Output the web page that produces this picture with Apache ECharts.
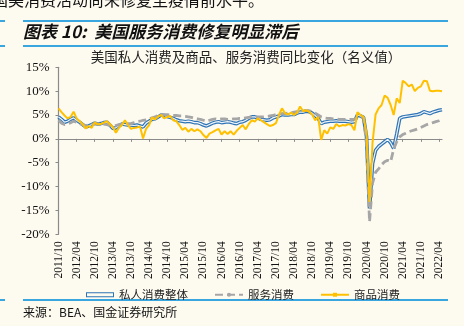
<!DOCTYPE html>
<html>
<head>
<meta charset="utf-8">
<script src="https://cdn.jsdelivr.net/npm/echarts@6/dist/echarts.min.js"></script>
<style>
html,body{margin:0;padding:0;background:#fdfaf0;}
#c{width:464px;height:326px;}
</style>
</head>
<body>
<div id="c"></div>
<script>
// ---- data (monthly, 2011/10 - 2022/05) ----
var startYear = 2011, startMonth = 10, monthCount = 128;
var tickLabels = ['2011/10','2012/04','2012/10','2013/04','2013/10','2014/04','2014/10','2015/04','2015/10','2016/04','2016/10','2017/04','2017/10','2018/04','2018/10','2019/04','2019/10','2020/04','2020/10','2021/04','2021/10','2022/04'];
var yTicks = [-20, -15, -10, -5, 0, 5, 10, 15];

var totalPCE = [
 4.6, 4.1, 3.5, 3.7, 4.1, 4.4, 3.9, 3.5, 3.0, 2.5, 2.7, 3.0, 3.3, 3.1, 3.2, 3.4,
 3.5, 2.9, 2.2, 2.3, 2.8, 3.1, 3.0, 2.9, 2.9, 2.8, 2.9, 2.7, 2.5, 3.3, 3.7, 4.1,
 4.2, 4.6, 5.0, 4.9, 4.7, 4.5, 4.3, 4.0, 3.8, 3.7, 3.6, 3.7, 3.6, 3.4, 3.4, 3.2,
 2.9, 2.7, 3.0, 3.3, 3.5, 3.6, 3.4, 3.5, 3.6, 3.5, 3.3, 3.2, 3.5, 3.6, 3.9, 4.3,
 4.6, 4.6, 4.4, 4.1, 4.0, 3.9, 4.0, 4.4, 4.6, 4.8, 5.1, 5.0, 5.0, 5.1, 5.1, 5.4,
 5.6, 5.6, 5.8, 5.7, 5.4, 4.9, 4.3, 3.2, 3.5, 3.6, 3.7, 3.7, 3.8, 3.7, 3.7, 3.7,
 3.6, 3.5, 3.6, 5.0, 4.8, 4.5, 0.5, -14.6, -5.2, -2.4, -1.6, -1.1, -0.6, -0.1, -0.8, -2.0,
 1.0, 4.3, 4.6, 4.7, 4.8, 4.9, 5.0, 5.1, 5.3, 5.7, 5.5, 5.3, 5.6, 5.8, 6.0, 6.1
];
var servicesPCE = [
 3.9, 3.3, 3.0, 3.1, 3.4, 3.7, 3.5, 3.2, 3.0, 2.8, 2.9, 3.0, 3.1, 3.2, 3.2, 3.1,
 3.0, 2.8, 2.6, 2.8, 3.0, 3.1, 3.1, 3.2, 3.2, 3.4, 3.6, 3.7, 3.9, 4.0, 4.2, 4.4,
 4.6, 4.9, 5.1, 5.1, 5.1, 5.0, 4.9, 4.9, 4.8, 4.8, 4.7, 4.6, 4.5, 4.3, 4.2, 4.1,
 3.9, 3.7, 3.9, 4.1, 4.2, 4.1, 4.2, 4.2, 4.1, 4.1, 4.2, 4.2, 4.3, 4.3, 4.4, 4.5,
 4.6, 4.6, 4.6, 4.6, 4.6, 4.7, 4.8, 4.9, 5.1, 5.2, 5.3, 5.3, 5.4, 5.5, 5.6, 5.7,
 5.8, 5.9, 5.9, 5.9, 5.7, 5.4, 5.0, 4.6, 4.4, 4.3, 4.3, 4.2, 4.2, 4.1, 4.1, 4.1,
 4.1, 4.1, 4.1, 4.5, 4.6, 4.5, -1.0, -17.4, -9.3, -7.0, -6.3, -5.4, -4.8, -4.5, -4.8, -2.1,
 -0.6, 0.4, 0.9, 1.2, 1.5, 1.7, 1.9, 2.1, 2.4, 2.7, 3.0, 3.2, 3.4, 3.6, 3.8, 4.1
];
var goodsPCE = [
 6.4, 5.6, 4.9, 4.3, 4.6, 5.7, 4.3, 3.7, 3.1, 2.2, 2.7, 2.3, 3.5, 3.0, 3.1, 3.4,
 3.7, 3.1, 2.5, 1.3, 2.3, 2.9, 3.9, 2.9, 2.1, 2.3, 2.4, 2.6, 0.1, 2.1, 2.9, 4.5,
 4.1, 4.7, 5.0, 4.3, 4.6, 4.8, 3.9, 3.7, 2.9, 1.9, 2.3, 1.5, 2.1, 1.6, 2.0, 1.6,
 0.8, 0.2, 1.1, 1.4, 1.8, 2.1, 0.9, 1.6, 1.0, 1.6, 0.9, 1.7, 2.3, 2.9, 2.0, 3.1,
 3.9, 3.6, 4.3, 3.9, 3.5, 3.1, 2.7, 2.9, 3.3, 5.0, 6.4, 5.4, 5.1, 5.5, 5.0, 5.5,
 6.8, 5.8, 6.0, 5.7, 5.1, 3.9, 4.6, -0.2, 1.8, 1.1, 2.4, 2.1, 3.1, 2.6, 2.9, 2.8,
 3.1, 2.9, 1.8, 5.6, 5.0, 4.6, 1.3, -13.2, -0.8, 5.1, 6.4, 7.1, 9.1, 8.6, 7.1, 5.0,
 8.5, 7.5, 12.2, 11.7, 11.0, 11.4, 10.0, 10.7, 11.0, 12.2, 12.1, 10.1, 10.0, 10.1, 10.1, 10.0
];

var categories = [];
(function () {
  var y = startYear, m = startMonth;
  for (var k = 0; k < monthCount; k++) {
    categories.push(y + '/' + (m < 10 ? '0' + m : m));
    m++; if (m > 12) { m = 1; y++; }
  }
})();
function isTick(idx, val) { return tickLabels.indexOf(val) >= 0; }

var serif = "'Liberation Serif', 'Times New Roman', serif";
var axisGrey = '#8a8a8a';
var chart = echarts.init(document.getElementById('c'), null, {renderer: 'canvas'});
chart.setOption({
  animation: false,
  backgroundColor: '#fdfaf0',
  textStyle: {fontFamily: '"Noto Sans CJK SC"'},
  grid: {left: 58.5, right: 22, top: 67.3, bottom: 91.7, containLabel: false},
  xAxis: [{
    type: 'category', data: categories, boundaryGap: false,
    axisLine: {onZero: true, lineStyle: {color: axisGrey, width: 1.2}},
    axisTick: {show: true, interval: isTick, length: 3, lineStyle: {color: axisGrey}},
    axisLabel: {show: false}, splitLine: {show: false}
  }, {
    type: 'category', data: categories, boundaryGap: false, position: 'bottom',
    axisLine: {show: false, onZero: false}, axisTick: {show: false},
    axisLabel: {interval: isTick, rotate: 90, margin: 7, fontFamily: serif, fontSize: 11.5, color: '#111'},
    splitLine: {show: false}
  }],
  yAxis: {
    type: 'value', min: yTicks[0], max: yTicks[yTicks.length - 1], interval: 5,
    axisLine: {show: true, lineStyle: {color: axisGrey, width: 1.2}},
    axisTick: {show: true, length: 3, lineStyle: {color: axisGrey}},
    axisLabel: {formatter: '{value}%', fontFamily: serif, fontSize: 13, color: '#111', margin: 9},
    splitLine: {show: false}
  },
  legend: {
    left: 81, top: 284, itemWidth: 28, itemHeight: 5, itemGap: 26,
    textStyle: {fontFamily: '"Noto Sans CJK SC"', fontSize: 11.5, color: '#222'},
    data: [
      {name: '私人消费整体', icon: 'path://M0,0H28V5H0Z M1,1V4H27V1Z'},
      {name: '服务消费'},
      {name: '商品消费'}
    ]
  },
  graphic: [
    {type: 'text', x: -8, y: 0, style: {text: '国美消费活动尚未修复至疫情前水平。', font: '16px "Noto Sans CJK SC"', fill: '#111', textVerticalAlign: 'middle'}},
    {type: 'line', shape: {x1: 0, y1: 21, x2: 5, y2: 21}, style: {stroke: '#3aa6df', lineWidth: 2}},
    {type: 'line', shape: {x1: 23, y1: 21, x2: 448, y2: 21}, style: {stroke: '#3aa6df', lineWidth: 2}},
    {type: 'text', x: 23, y: 32, style: {text: '图表 10:  美国服务消费修复明显滞后', font: 'italic bold 17px "Noto Sans CJK SC"', fill: '#111', textVerticalAlign: 'middle'}},
    {type: 'line', shape: {x1: 0, y1: 46, x2: 5, y2: 46}, style: {stroke: '#3aa6df', lineWidth: 2}},
    {type: 'line', shape: {x1: 23, y1: 46, x2: 448, y2: 46}, style: {stroke: '#3aa6df', lineWidth: 2}},
    {type: 'text', x: 246, y: 57, style: {text: '美国私人消费及商品、服务消费同比变化（名义值）', font: '13.5px "Noto Sans CJK SC"', fill: '#222', textAlign: 'center', textVerticalAlign: 'middle'}},
    {type: 'line', shape: {x1: 0, y1: 300, x2: 5, y2: 300}, style: {stroke: '#3aa6df', lineWidth: 2}},
    {type: 'line', shape: {x1: 23, y1: 300, x2: 448, y2: 300}, style: {stroke: '#3aa6df', lineWidth: 2}},
    {type: 'text', x: 23, y: 312, style: {text: '来源：BEA、国金证券研究所', font: '12px "Noto Sans CJK SC"', fill: '#111', textVerticalAlign: 'middle'}}
  ],
  series: [
    {name: '私人消费整体', type: 'line', data: totalPCE, symbol: 'none', color: '#2e74b5',
     lineStyle: {color: '#2e74b5', width: 3.6}, emphasis: {disabled: true}, silent: true, z: 2},
    {name: 'inner', type: 'line', data: totalPCE, symbol: 'none', color: '#f4f8fc',
     lineStyle: {color: '#eef4fa', width: 1.2}, emphasis: {disabled: true}, silent: true, z: 3},
    {name: '服务消费', type: 'line', data: servicesPCE, symbol: 'none', color: '#a6a6a6',
     lineStyle: {color: '#a6a6a6', width: 2.8, type: [8, 4]}, emphasis: {disabled: true}, silent: true, z: 4},
    {name: '商品消费', type: 'line', data: goodsPCE, symbol: 'rect', symbolSize: 3, color: '#ffc000',
     itemStyle: {color: '#ffc000'}, lineStyle: {color: '#ffc000', width: 2}, emphasis: {disabled: true}, silent: true, z: 5}
  ]
});
</script>
</body>
</html>
